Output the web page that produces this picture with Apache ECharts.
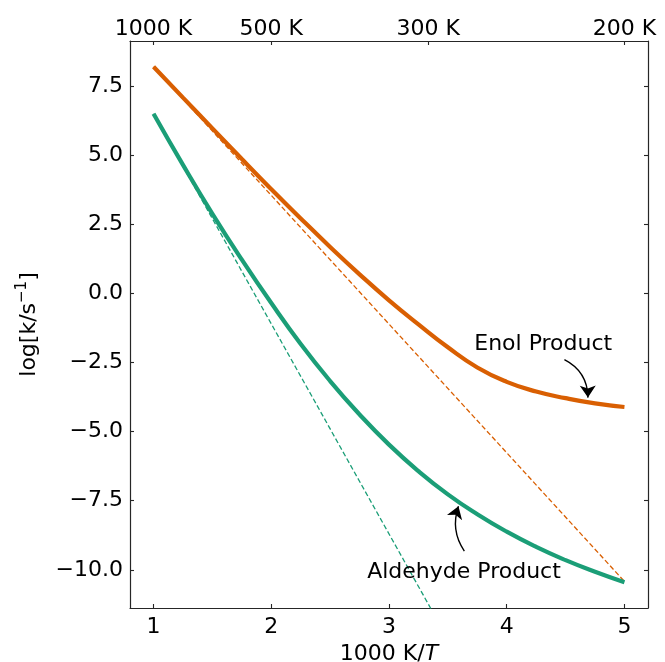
<!DOCTYPE html>
<html>
<head>
<meta charset="utf-8">
<script src="https://cdn.jsdelivr.net/npm/echarts@6/dist/echarts.min.js"></script>
<style>
  html, body { margin: 0; padding: 0; background: #ffffff; }
  #chart { width: 665px; height: 662px; }
</style>
</head>
<body>
<div id="chart"></div>
<script>
// Inverse temperature grid, 1000 K / T
const invT = [1, 1.25, 1.5, 1.75, 2, 2.25, 2.5, 2.75, 3, 3.25, 3.5, 3.75, 4, 4.25, 4.5, 4.75, 5];

// Tunnelling-corrected rate constants, log10(k / s^-1)
const enolRate = [8.2, 7.08, 5.97, 4.86, 3.77, 2.71, 1.68, 0.69, -0.25, -1.12, -1.95, -2.68, -3.2, -3.55, -3.79, -3.98, -4.11];
const aldehydeRate = [6.5, 4.65, 2.88, 1.22, -0.35, -1.83, -3.17, -4.38, -5.47, -6.43, -7.27, -7.99, -8.62, -9.17, -9.65, -10.07, -10.45];

// Classical Arrhenius lines (straight in 1/T)
const arrheniusX = [1, 5];
const enolArrhenius = [8.2, -10.42];
const aldehydeArrhenius = [6.5, -23.9];

// Axis ticks
const bottomTicks = [1, 2, 3, 4, 5];
const yTicks = [-10, -7.5, -5, -2.5, 0, 2.5, 5, 7.5];
const topTemps = [1000, 500, 300, 200];
const topTickLabels = ['1000 K', '500 K', '300 K', '200 K'];

// Curve labels and their arrows (data coordinates)
const enolLabel = { text: 'Enol Product', at: [4.31, -1.83], arrowFrom: [4.49, -2.40], arrowTo: [4.69, -3.77] };
const aldehydeLabel = { text: 'Aldehyde Product', at: [3.637, -10.07], arrowFrom: [3.64, -9.32], arrowTo: [3.59, -7.70] };

const ORANGE = '#d95f02';
const GREEN = '#1b9e77';
const FONT = 'DejaVu Sans';
const FS = 22;

const topTickPos = topTemps.map(t => 1000 / t);
const pairs = (xs, ys) => xs.map((x, i) => [x, ys[i]]);
const fmtY = v => (v < 0 ? '\u2212' : '') + Math.abs(v).toFixed(1);

const xRange = { min: 0.8, max: 5.2 };
const yRange = { min: -11.38, max: 9.13 };

const axisLineStyle = { color: '#262626', width: 1.2 };
const tickStyle = { inside: true, length: 4, lineStyle: { color: '#262626', width: 1.1 } };

const chart = echarts.init(document.getElementById('chart'), null, { renderer: 'canvas' });

chart.setOption({
  animation: false,
  backgroundColor: '#ffffff',
  textStyle: { fontFamily: FONT },
  grid: { left: 130, right: 17, top: 41, bottom: 54, containLabel: false, outerBoundsMode: 'none' },
  xAxis: [
    {
      type: 'value', position: 'bottom', ...xRange,
      name: '1000 K/{i|T}',
      nameLocation: 'middle', nameGap: 33,
      nameTextStyle: { fontFamily: FONT, fontSize: FS, color: '#000',
        rich: { i: { fontFamily: FONT, fontSize: FS, fontStyle: 'italic', color: '#000' } } },
      axisLine: { show: true, onZero: false, lineStyle: axisLineStyle },
      axisTick: { show: true, customValues: bottomTicks, ...tickStyle },
      axisLabel: { show: true, customValues: bottomTicks, margin: 8, fontFamily: FONT, fontSize: FS, color: '#000',
        formatter: v => String(v) },
      splitLine: { show: false }
    },
    {
      type: 'value', position: 'top', ...xRange,
      axisLine: { show: true, onZero: false, lineStyle: axisLineStyle },
      axisTick: { show: true, customValues: topTickPos, ...tickStyle },
      axisLabel: { show: true, customValues: topTickPos, margin: 1, fontFamily: FONT, fontSize: FS, color: '#000',
        formatter: v => {
          let best = 0;
          topTickPos.forEach((p, i) => { if (Math.abs(p - v) < Math.abs(topTickPos[best] - v)) best = i; });
          return topTickLabels[best];
        } },
      splitLine: { show: false }
    }
  ],
  yAxis: [
    {
      type: 'value', position: 'left', ...yRange,
      name: 'log[k/s{sup|\u22121}]',
      nameLocation: 'middle', nameGap: 85, nameRotate: 90,
      nameTextStyle: { fontFamily: FONT, fontSize: FS, color: '#000', lineHeight: 30,
        rich: { sup: { fontFamily: FONT, fontSize: 15, color: '#000', verticalAlign: 'top', lineHeight: 30, padding: [0, 0, 10, 0] } } },
      axisLine: { show: true, onZero: false, lineStyle: axisLineStyle },
      axisTick: { show: true, customValues: yTicks, ...tickStyle },
      axisLabel: { show: true, customValues: yTicks, margin: 7, fontFamily: FONT, fontSize: FS, color: '#000',
        formatter: fmtY },
      splitLine: { show: false }
    },
    {
      type: 'value', position: 'right', ...yRange,
      axisLine: { show: true, onZero: false, lineStyle: axisLineStyle },
      axisTick: { show: true, customValues: yTicks, ...tickStyle },
      axisLabel: { show: false },
      splitLine: { show: false }
    }
  ],
  series: [
    {
      name: 'Enol Arrhenius', type: 'line', xAxisIndex: 0, yAxisIndex: 0,
      data: pairs(arrheniusX, enolArrhenius), showSymbol: false, symbol: 'none', clip: true, z: 2,
      lineStyle: { color: ORANGE, width: 1.3, type: [5, 2.6] }
    },
    {
      name: 'Aldehyde Arrhenius', type: 'line', xAxisIndex: 0, yAxisIndex: 0,
      data: pairs(arrheniusX, aldehydeArrhenius), showSymbol: false, symbol: 'none', clip: true, z: 2,
      lineStyle: { color: GREEN, width: 1.3, type: [5, 2.6] }
    },
    {
      name: 'Enol Product', type: 'line', xAxisIndex: 0, yAxisIndex: 0,
      data: pairs(invT, enolRate), showSymbol: false, symbol: 'none', smooth: 0.5, clip: true, z: 3,
      lineStyle: { color: ORANGE, width: 4.2 }
    },
    {
      name: 'Aldehyde Product', type: 'line', xAxisIndex: 0, yAxisIndex: 0,
      data: pairs(invT, aldehydeRate), showSymbol: false, symbol: 'none', smooth: 0.5, clip: true, z: 3,
      lineStyle: { color: GREEN, width: 4.2 }
    },
    {
      name: 'arrows', type: 'lines', coordinateSystem: 'cartesian2d', xAxisIndex: 0, yAxisIndex: 0,
      symbol: ['none', 'arrow'], symbolSize: [6, 12], z: 4,
      lineStyle: { color: '#000', width: 1.4, opacity: 1 },
      data: [
        { coords: [enolLabel.arrowFrom, enolLabel.arrowTo], lineStyle: { curveness: 0.3 } },
        { coords: [aldehydeLabel.arrowFrom, aldehydeLabel.arrowTo], lineStyle: { curveness: 0.25 } }
      ]
    },
    {
      name: 'labels', type: 'scatter', xAxisIndex: 0, yAxisIndex: 0, symbolSize: 1, z: 5,
      itemStyle: { color: 'rgba(0,0,0,0)', opacity: 1 },
      label: { show: true, position: 'inside', fontFamily: FONT, fontSize: FS, color: '#000', opacity: 1,
        textBorderWidth: 0, formatter: p => p.name },
      data: [
        { name: enolLabel.text, value: enolLabel.at },
        { name: aldehydeLabel.text, value: aldehydeLabel.at }
      ]
    }
  ]
});
</script>
</body>
</html>
